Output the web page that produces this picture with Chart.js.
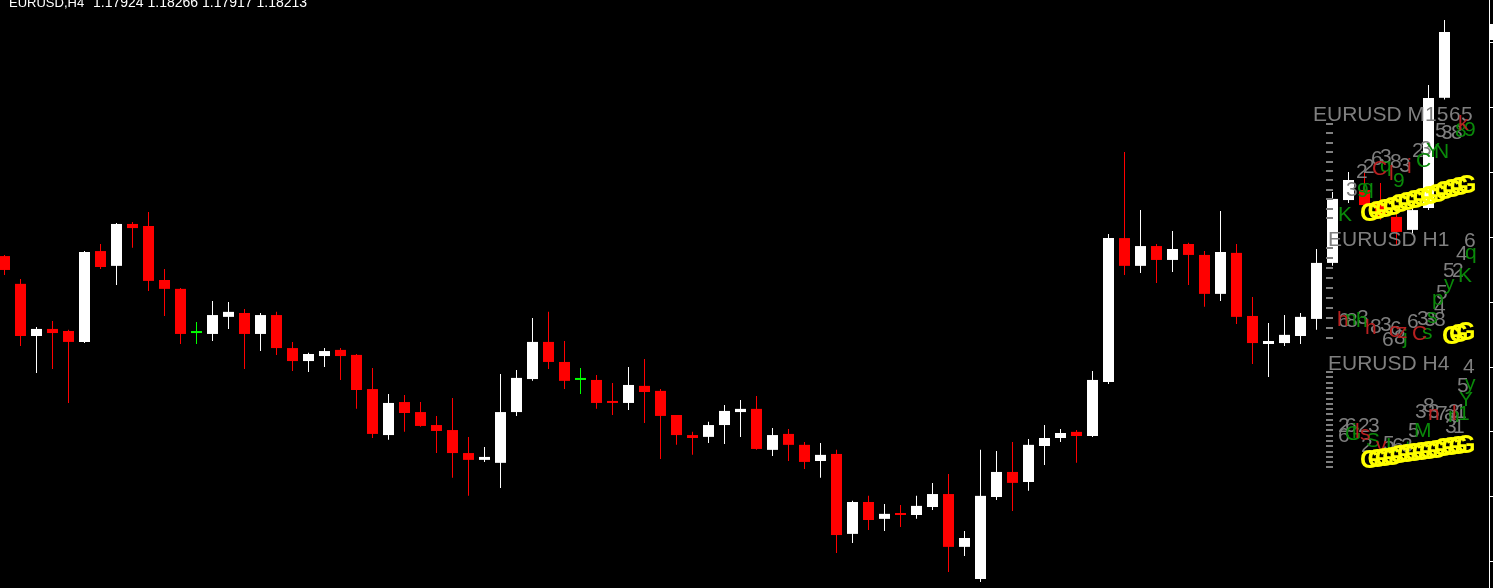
<!DOCTYPE html>
<html>
<head>
<meta charset="utf-8">
<title>EURUSD,H4</title>
<script src="https://cdn.jsdelivr.net/npm/chart.js@4.4.1/dist/chart.umd.min.js"></script>
<style>
  html, body { margin: 0; padding: 0; background: #000; overflow: hidden; }
  #wrap { position: relative; width: 1493px; height: 588px; }
</style>
</head>
<body>
<div id="wrap"><canvas id="priceChart"></canvas></div>
<script>
"use strict";

// EURUSD H4 bars, oldest first
const symbolTitle = "EURUSD,H4";
const opens = [
	1.17229, 1.17107, 1.16878, 1.16909, 1.16900, 1.16852, 1.17251, 1.17186, 1.17370, 1.17361,
	1.17124, 1.17085, 1.16891, 1.16887, 1.16962, 1.16979, 1.16887, 1.16970, 1.16825, 1.16768,
	1.16790, 1.16817, 1.16795, 1.16645, 1.16443, 1.16588, 1.16544, 1.16487, 1.16465, 1.16364,
	1.16334, 1.16321, 1.16544, 1.16689, 1.16852, 1.16764, 1.16685, 1.16685, 1.16588, 1.16584,
	1.16659, 1.16637, 1.16531, 1.16443, 1.16435, 1.16487, 1.16544, 1.16558, 1.16378, 1.16448,
	1.16400, 1.16329, 1.16360, 1.16009, 1.16149, 1.16075, 1.16097, 1.16092, 1.16127, 1.16184,
	1.15952, 1.15811, 1.16171, 1.16281, 1.16237, 1.16395, 1.16430, 1.16457, 1.16439, 1.16676,
	1.17308, 1.17186, 1.17273, 1.17212, 1.17282, 1.17234, 1.17063, 1.17243, 1.16966, 1.16843,
	1.16847, 1.16878, 1.16953, 1.17199, 1.17475, 1.17519, 1.17462, 1.17401, 1.17344, 1.17440,
	1.17924
];
const highs = [
	1.17234, 1.17128, 1.16918, 1.16944, 1.16905, 1.17251, 1.17282, 1.17374, 1.17379, 1.17423,
	1.17172, 1.17089, 1.16940, 1.17032, 1.17027, 1.16997, 1.16979, 1.16984, 1.16852, 1.16804,
	1.16825, 1.16825, 1.16799, 1.16738, 1.16623, 1.16619, 1.16588, 1.16527, 1.16606, 1.16435,
	1.16391, 1.16711, 1.16729, 1.16957, 1.16984, 1.16856, 1.16738, 1.16707, 1.16672, 1.16742,
	1.16777, 1.16645, 1.16531, 1.16457, 1.16501, 1.16575, 1.16597, 1.16615, 1.16474, 1.16470,
	1.16413, 1.16408, 1.16378, 1.16154, 1.16176, 1.16140, 1.16136, 1.16176, 1.16233, 1.16272,
	1.16022, 1.16378, 1.16373, 1.16413, 1.16426, 1.16487, 1.16470, 1.16465, 1.16724, 1.17326,
	1.17686, 1.17431, 1.17282, 1.17339, 1.17287, 1.17251, 1.17427, 1.17282, 1.17049, 1.16935,
	1.16970, 1.16979, 1.17260, 1.17510, 1.17598, 1.17598, 1.17550, 1.17453, 1.17453, 1.17980,
	1.18266
];
const lows = [
	1.17146, 1.16834, 1.16716, 1.16733, 1.16584, 1.16847, 1.17172, 1.17102, 1.17265, 1.17076,
	1.16966, 1.16843, 1.16843, 1.16856, 1.16909, 1.16733, 1.16812, 1.16795, 1.16724, 1.16720,
	1.16742, 1.16685, 1.16558, 1.16430, 1.16422, 1.16457, 1.16479, 1.16364, 1.16255, 1.16176,
	1.16325, 1.16211, 1.16527, 1.16681, 1.16733, 1.16645, 1.16623, 1.16558, 1.16531, 1.16553,
	1.16496, 1.16338, 1.16400, 1.16356, 1.16408, 1.16404, 1.16435, 1.16378, 1.16351, 1.16329,
	1.16294, 1.16255, 1.15925, 1.15969, 1.16026, 1.16022, 1.16039, 1.16075, 1.16114, 1.15842,
	1.15912, 1.15798, 1.16158, 1.16110, 1.16198, 1.16312, 1.16413, 1.16321, 1.16435, 1.16667,
	1.17146, 1.17155, 1.17111, 1.17159, 1.17102, 1.17006, 1.17032, 1.16931, 1.16755, 1.16698,
	1.16834, 1.16843, 1.16905, 1.17186, 1.17462, 1.17431, 1.17388, 1.17278, 1.17322, 1.17431,
	1.17917
];
const closes = [
	1.17168, 1.16878, 1.16909, 1.16891, 1.16852, 1.17247, 1.17181, 1.17370, 1.17352, 1.17120,
	1.17085, 1.16887, 1.16891, 1.16970, 1.16984, 1.16887, 1.16970, 1.16825, 1.16768, 1.16799,
	1.16812, 1.16790, 1.16641, 1.16448, 1.16584, 1.16540, 1.16483, 1.16461, 1.16364, 1.16334,
	1.16347, 1.16544, 1.16694, 1.16852, 1.16764, 1.16681, 1.16685, 1.16584, 1.16584, 1.16663,
	1.16632, 1.16527, 1.16443, 1.16430, 1.16487, 1.16549, 1.16558, 1.16382, 1.16443, 1.16400,
	1.16325, 1.16356, 1.16004, 1.16149, 1.16070, 1.16097, 1.16092, 1.16132, 1.16184, 1.15952,
	1.15991, 1.16176, 1.16281, 1.16233, 1.16400, 1.16430, 1.16452, 1.16439, 1.16685, 1.17308,
	1.17186, 1.17273, 1.17212, 1.17260, 1.17234, 1.17063, 1.17247, 1.16962, 1.16847, 1.16856,
	1.16883, 1.16962, 1.17199, 1.17480, 1.17563, 1.17453, 1.17401, 1.17335, 1.17431, 1.17923,
	1.18213
];
// price levels marked on the right scale
const tickPrices = [1.18169, 1.17884, 1.17599, 1.17314, 1.17029, 1.16744, 1.16459, 1.16174, 1.15889];

const BULL = "#ffffff";
const BEAR = "#ff0000";
const DOJI = "#00ff00";
const GREY = "#7f7f7f";
const TXT_GREEN = "#0a8a0a";
const TXT_RED = "#b82020";
const TXT_YELLOW = "#ffff00";

const barColor = (i) => {
	if (closes[i] > opens[i]) return BULL;
	if (closes[i] < opens[i]) return BEAR;
	return DOJI;
};
const colors = opens.map((o, i) => barColor(i));
const bodies = opens.map((o, i) => ({ x: i, y: [o, closes[i]] }));
const wicks = lows.map((l, i) => ({ x: i, y: [l, highs[i]] }));

// multi-timeframe panel drawn by an indicator on top of the chart
const panels = [
	{ label: "EURUSD M15", lx: 1313, ly: 121, dashTop: 123, dashStep: 9.4, dashCount: 11 },
	{ label: "EURUSD H1", lx: 1328, ly: 246, dashTop: 247, dashStep: 10, dashCount: 10 },
	{ label: "EURUSD H4", lx: 1328, ly: 370, dashTop: 371, dashStep: 5.3, dashCount: 19 },
];
const glyphs = [
	// M15
	["6", 1449, 121, GREY], ["5", 1461, 121, GREY],
	["5", 1435, 137, GREY], ["3", 1441, 139, GREY], ["8", 1451, 139, GREY],
	["2", 1412, 157, GREY], ["3", 1420, 155, GREY],
	["2", 1363, 173, GREY], ["6", 1371, 165, GREY], ["3", 1380, 163, GREY], ["8", 1390, 168, GREY], ["3", 1399, 172, GREY],
	["2", 1356, 178, GREY], ["3", 1346, 196, GREY],
	["8", 1455, 137, TXT_GREEN], ["9", 1464, 136, TXT_GREEN], ["N", 1434, 158, TXT_GREEN], ["Y", 1426, 157, TXT_GREEN],
	["C", 1416, 167, TXT_GREEN], ["q", 1380, 172, TXT_GREEN], ["9", 1393, 187, TXT_GREEN], ["9", 1357, 197, TXT_GREEN],
	["q", 1362, 194, TXT_GREEN], ["K", 1338, 221, TXT_GREEN],
	["k", 1458, 130, TXT_RED], ["C", 1372, 175, TXT_RED], ["l", 1389, 180, TXT_RED], ["i", 1407, 173, TXT_RED],
	// H1
	["6", 1464, 247, GREY], ["4", 1456, 260, GREY], ["5", 1443, 277, GREY], ["2", 1452, 277, GREY],
	["5", 1436, 299, GREY], ["4", 1434, 313, GREY], ["3", 1424, 326, GREY], ["8", 1434, 326, GREY],
	["6", 1407, 328, GREY], ["3", 1417, 325, GREY],
	["6", 1338, 327, GREY], ["8", 1346, 327, GREY], ["3", 1357, 324, GREY], ["8", 1370, 333, GREY],
	["3", 1380, 331, GREY], ["6", 1390, 335, GREY], ["6", 1382, 346, GREY], ["8", 1394, 344, GREY],
	["q", 1465, 259, TXT_GREEN], ["K", 1458, 282, TXT_GREEN], ["y", 1444, 290, TXT_GREEN], ["p", 1432, 305, TXT_GREEN],
	["s", 1427, 323, TXT_GREEN], ["s", 1422, 339, TXT_GREEN], ["n", 1345, 325, TXT_GREEN], ["h", 1356, 327, TXT_GREEN],
	["j", 1403, 344, TXT_GREEN],
	["h", 1337, 326, TXT_RED], ["h", 1365, 334, TXT_RED], ["c", 1389, 337, TXT_RED], ["z", 1397, 338, TXT_RED],
	["C", 1412, 340, TXT_RED],
	// H4
	["4", 1463, 373, GREY], ["5", 1457, 392, GREY], ["3", 1415, 418, GREY], ["8", 1423, 412, GREY],
	["3", 1428, 418, GREY], ["7", 1436, 420, GREY], ["a", 1444, 420, GREY], ["3", 1448, 418, GREY],
	["1", 1455, 418, GREY], ["3", 1445, 433, GREY], ["1", 1453, 433, GREY], ["5", 1408, 437, GREY],
	["2", 1338, 432, GREY], ["6", 1345, 432, GREY], ["2", 1358, 432, GREY], ["3", 1368, 432, GREY],
	["6", 1338, 442, GREY], ["2", 1361, 452, GREY], ["5", 1383, 450, GREY], ["6", 1392, 452, GREY],
	["3", 1401, 452, GREY],
	["y", 1465, 390, TXT_GREEN], ["Y", 1459, 406, TXT_GREEN], ["n", 1448, 422, TXT_GREEN], ["1", 1458, 420, TXT_GREEN],
	["M", 1414, 437, TXT_GREEN], ["G", 1345, 440, TXT_GREEN], ["S", 1366, 447, TXT_GREEN], ["L", 1386, 452, TXT_GREEN],
	["t", 1405, 455, TXT_GREEN], ["i", 1352, 438, TXT_GREEN],
	["n", 1428, 420, TXT_RED], ["l", 1452, 420, TXT_RED], ["s", 1360, 440, TXT_RED], ["v", 1376, 452, TXT_RED],
	["l", 1355, 438, TXT_RED],
];
// rows of yellow "G" marks: start, end, count
const gRows = [
	[1360, 221, 1457, 193, 14],
	[1442, 344, 1456, 340, 3],
	[1360, 468, 1456, 453, 14],
];

const overlayPlugin = {
	id: "mtOverlay",
	afterDatasetsDraw(chart) {
		const { ctx, chartArea, scales } = chart;
		const right = chartArea.right;
		ctx.save();

		// right price scale
		ctx.fillStyle = "#ffffff";
		ctx.fillRect(right, 0, 1, chart.height);
		tickPrices.forEach((p) => {
			const y = Math.round(scales.y.getPixelForValue(p));
			ctx.fillRect(right + 1, y, 4, 1);
		});
		const lastY = Math.round(scales.y.getPixelForValue(closes[closes.length - 1]));
		ctx.fillRect(right + 1, lastY - 8, 4, 16);

		// header
		ctx.textBaseline = "alphabetic";
		ctx.fillStyle = "#ffffff";
		const last = opens.length - 1;
		const ohlc = [opens[last], highs[last], lows[last], closes[last]].map((v) => v.toFixed(5)).join(" ");
		ctx.font = "13px 'Liberation Sans'";
		ctx.fillText(symbolTitle, 9, 7);
		ctx.font = "14px 'Liberation Sans'";
		ctx.fillText(ohlc, 93, 7);

		// indicator panels
		ctx.font = "21px 'Liberation Sans'";
		panels.forEach((pn) => {
			ctx.fillStyle = GREY;
			for (let k = 0; k < pn.dashCount; k++) {
				ctx.fillRect(1326, Math.round(pn.dashTop + k * pn.dashStep), 7, 2);
			}
			ctx.fillText(pn.label, pn.lx, pn.ly);
		});
		glyphs.forEach(([t, x, y, c]) => {
			ctx.fillStyle = c;
			ctx.fillText(t, x, y);
		});
		ctx.font = "bold 25px 'Liberation Sans'";
		ctx.fillStyle = TXT_YELLOW;
		gRows.forEach(([x0, y0, x1, y1, n]) => {
			for (let k = 0; k < n; k++) {
				const f = n > 1 ? k / (n - 1) : 0;
				ctx.fillText("G", x0 + (x1 - x0) * f, y0 + (y1 - y0) * f);
			}
		});
		ctx.restore();
	},
};

new Chart(document.getElementById("priceChart"), {
	type: "bar",
	data: {
		datasets: [
			{
				label: "body",
				data: bodies,
				backgroundColor: colors,
				barThickness: 11,
				minBarLength: 2,
				inflateAmount: 0,
				borderWidth: 0,
				grouped: false,
			},
			{
				label: "wick",
				data: wicks,
				backgroundColor: colors,
				barThickness: 1,
				inflateAmount: 0,
				borderWidth: 0,
				grouped: false,
			},
		],
	},
	options: {
		responsive: true,
		maintainAspectRatio: false,
		animation: false,
		layout: { padding: { left: 0, right: 4, top: 0, bottom: 0 } },
		plugins: {
			legend: { display: false },
			tooltip: { enabled: false },
		},
		scales: {
			x: { type: "linear", display: false, offset: false, min: -0.28125, max: 92.78125 },
			y: { display: false, min: 1.157714, max: 1.183535 },
		},
	},
	plugins: [overlayPlugin],
});
</script>
</body>
</html>
